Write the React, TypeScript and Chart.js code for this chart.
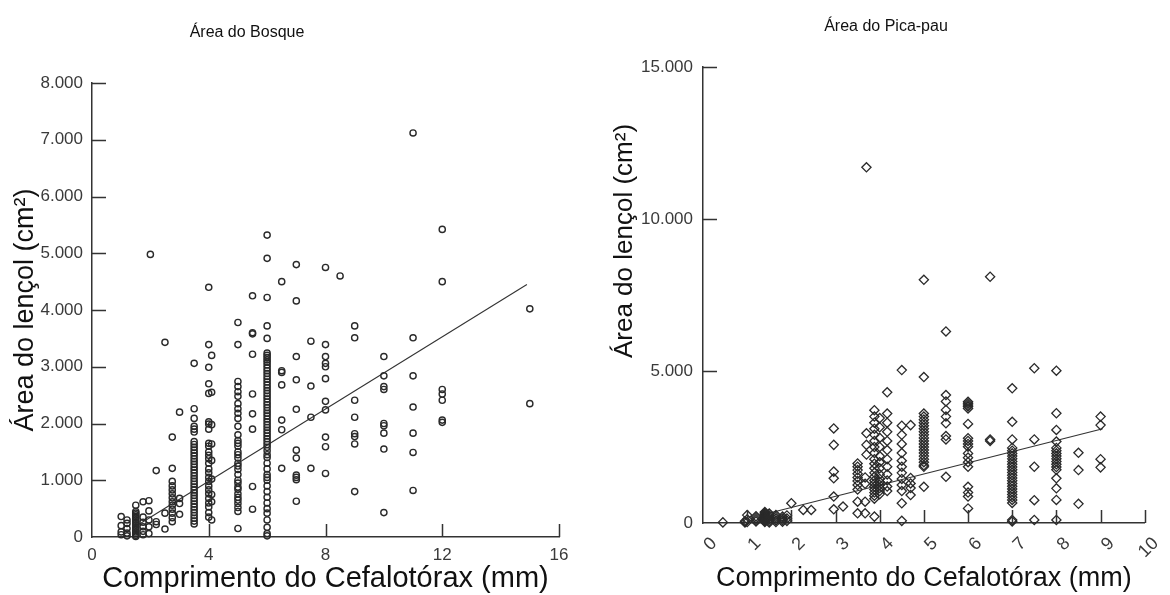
import React, { useEffect, useRef } from 'react';
import { Chart, registerables } from 'chart.js';

Chart.register(...registerables);

const FONT = "'Liberation Sans', Arial, Helvetica, sans-serif";

// ---------- Área do Bosque ----------
const BOSQUE_X = [1.0, 1.2, 1.5, 1.75, 1.95, 2.0, 2.2, 2.5, 2.75, 3.0, 3.5, 4.0, 4.1, 5.0, 5.5, 6.0, 6.5, 7.0, 7.5, 8.0, 8.5, 9.0, 10.0, 11.0, 12.0, 15.0];
const BOSQUE_Y: number[][] = [
  [360, 200, 90, 40],
  [300, 240, 150, 70, 20],
  [560, 450, 420, 390, 360, 330, 300, 270, 240, 210, 180, 150, 120, 90, 60, 30, 10],
  [620, 350, 260, 180, 100, 40],
  [640, 460, 300, 180, 60],
  [4980],
  [1170, 270, 220],
  [3430, 420, 140],
  [1760, 1210, 980, 900, 830, 760, 690, 620, 560, 490, 420, 340, 270],
  [2200, 680, 590, 400],
  [3060, 2260, 2090, 1950, 1900, 1850, 1680, 1630, 1580, 1530, 1480, 1430, 1380, 1330, 1280, 1230, 1180, 1130, 1080, 1030, 980, 930, 880, 830, 780, 730, 680, 630, 580, 530, 480, 430, 380, 330, 280, 230],
  [4400, 3390, 2990, 2700, 2530, 2030, 1990, 1900, 1650, 1600, 1500, 1440, 1380, 1300, 1200, 1130, 1050, 980, 900, 830, 760, 680, 600, 530, 430, 350],
  [3200, 2550, 1980, 1640, 1350, 1020, 750, 620, 300],
  [3780, 3390, 2740, 2650, 2560, 2480, 2350, 2260, 2180, 2090, 1950, 1800, 1700, 1650, 1600, 1500, 1450, 1390, 1300, 1250, 1190, 1100, 1000, 950, 880, 840, 760, 700, 650, 590, 520, 450, 150],
  [4250, 3600, 3580, 3220, 2520, 2170, 1900, 890, 490],
  [5320, 4910, 4220, 3720, 3500, 3240, 3200, 3160, 3120, 3080, 3030, 2980, 2930, 2880, 2830, 2780, 2730, 2680, 2630, 2580, 2530, 2480, 2430, 2380, 2330, 2280, 2230, 2180, 2130, 2080, 2030, 1980, 1930, 1880, 1830, 1780, 1730, 1680, 1630, 1580, 1520, 1450, 1400, 1300, 1200, 1100, 1050, 1000, 900, 800, 700, 600, 500, 420, 300, 170, 60, 20],
  [4500, 2930, 2900, 2680, 2060, 1890, 1210],
  [4800, 4160, 3180, 2770, 2250, 1530, 1390, 1090, 1050, 1010, 630],
  [3450, 2660, 2110, 1210],
  [4750, 3390, 3180, 3060, 3000, 2790, 2390, 2240, 1760, 1590, 1120],
  [4600],
  [3720, 3510, 2410, 2110, 1820, 1770, 1640, 800],
  [3180, 2840, 2650, 2600, 2000, 1960, 1830, 1550, 430],
  [7120, 3510, 2840, 2290, 1830, 1490, 820],
  [5420, 4500, 2600, 2520, 2410, 2060, 2020],
  [4020, 2350],
];
const BOSQUE_FIT_X = [1.6, 14.9];
const BOSQUE_FIT_Y = [220, 4450];
const BOSQUE_X_TICKS = [0, 4, 8, 12, 16];
const BOSQUE_Y_TICKS = [0, 1000, 2000, 3000, 4000, 5000, 6000, 7000, 8000];

// ---------- Área do Pica-pau ----------
const PICAPAU_X = [0.45, 0.95, 1.0, 1.2, 1.4, 1.5, 1.65, 1.8, 1.9, 2.0, 2.27, 2.45, 2.96, 3.17, 3.5, 3.67, 3.7, 3.88, 4.0, 4.17, 4.5, 4.7, 5.0, 5.5, 6.0, 6.5, 7.0, 7.5, 8.0, 8.5, 9.0];
const PICAPAU_Y: number[][] = [
  [20],
  [60, 20],
  [260, 120, 30],
  [220, 160, 100, 50],
  [360, 330, 300, 270, 240, 210, 180, 150, 120, 90, 60, 30],
  [310, 250, 190, 130, 70, 20],
  [260, 200, 140, 80, 30],
  [210, 150, 90, 40],
  [250, 150, 70],
  [650],
  [430],
  [430],
  [3110, 2570, 1690, 1470, 870, 450],
  [540],
  [1960, 1850, 1740, 1620, 1500, 1380, 1250, 1100, 700, 320],
  [1500, 1290, 700, 320],
  [11700, 2950, 2570, 2250],
  [3710, 3500, 3300, 3100, 2900, 2700, 2500, 2300, 2100, 1950, 1800, 1650, 1520, 1400, 1300, 1200, 1100, 1000, 900, 800, 210],
  [3450, 3150, 2800, 2500, 2200, 2000, 1800, 1600, 1450, 1350, 1250, 1150, 1050, 950],
  [4300, 3600, 3300, 3000, 2700, 2400, 2100, 1850, 1600, 1400, 1200, 1050],
  [5030, 3200, 2900, 2600, 2300, 2050, 1850, 1650, 1450, 1250, 1050, 650, 70],
  [3220, 1480, 1300, 1150, 920],
  [8000, 4800, 3600, 3500, 3400, 3300, 3200, 3100, 3000, 2900, 2800, 2700, 2600, 2500, 2400, 2300, 2200, 2100, 2000, 1900, 1850, 1190],
  [6300, 4210, 4000, 3720, 3500, 3280, 2860, 2750, 1520],
  [3990, 3940, 3880, 3830, 3770, 3260, 2790, 2700, 2600, 2510, 2290, 2150, 2000, 1850, 1190, 1000, 870, 480],
  [8100, 2750, 2700],
  [4430, 3330, 2750, 2470, 2380, 2290, 2200, 2110, 2020, 1930, 1840, 1750, 1660, 1570, 1480, 1390, 1300, 1210, 1120, 1030, 940, 850, 760, 660, 100, 50],
  [5090, 2750, 1850, 750, 100],
  [5010, 3610, 3060, 2680, 2470, 2380, 2290, 2200, 2110, 2020, 1930, 1840, 1750, 1470, 1140, 760, 100],
  [2310, 1740, 630],
  [3500, 3220, 2100, 1830],
];
const PICAPAU_FIT_X = [1.35, 9.05];
const PICAPAU_FIT_Y = [270, 3100];
const PICAPAU_X_TICKS = [0, 1, 2, 3, 4, 5, 6, 7, 8, 9, 10];
const PICAPAU_Y_TICKS = [0, 5000, 10000, 15000];

const TITLE_BOSQUE = 'Área do Bosque';
const TITLE_PICAPAU = 'Área do Pica-pau';
const X_TITLE = 'Comprimento do Cefalotórax (mm)';
const Y_TITLE = 'Área do lençol (cm²)';

function toPoints(xs: number[], ys: number[][]) {
  const pts: { x: number; y: number }[] = [];
  xs.forEach((x, i) => ys[i].forEach((y) => pts.push({ x, y })));
  return pts;
}
function pairPoints(xs: number[], ys: number[]) {
  return xs.map((x, i) => ({ x, y: ys[i] }));
}
function fmt(v: number) {
  if (v === 0) return '0';
  const s = String(Math.round(v));
  return s.slice(0, -3) + '.' + s.slice(-3);
}

const innerTicks = {
  id: 'innerTicks',
  afterDraw(chart: any, _a: any, opts: any) {
    const { ctx } = chart;
    const xs = chart.scales.x;
    const ys = chart.scales.y;
    ctx.save();
    ctx.strokeStyle = opts.color;
    ctx.lineWidth = opts.width;
    ctx.beginPath();
    xs.ticks.forEach((t: any) => {
      if (t.value === xs.min) return;
      const px = Math.round(xs.getPixelForValue(t.value)) + 0.5;
      ctx.moveTo(px, ys.bottom);
      ctx.lineTo(px, ys.bottom - opts.xLen);
    });
    ys.ticks.forEach((t: any) => {
      if (t.value === ys.min) return;
      const py = Math.round(ys.getPixelForValue(t.value)) + 0.5;
      ctx.moveTo(xs.left, py);
      ctx.lineTo(xs.left + opts.yLen, py);
    });
    ctx.stroke();
    ctx.restore();
  },
};

const overlayText = {
  id: 'overlayText',
  afterDraw(chart: any, _a: any, opts: any) {
    const { ctx } = chart;
    (opts.items || []).forEach((it: any) => {
      ctx.save();
      ctx.translate(it.x, it.y);
      if (it.rotate) ctx.rotate(it.rotate);
      ctx.font = it.font;
      ctx.fillStyle = it.color;
      ctx.textAlign = 'center';
      ctx.textBaseline = 'middle';
      ctx.fillText(it.text, 0, 0);
      ctx.restore();
    });
  },
};

function setTicks(arr: number[]) {
  return (scale: any) => {
    scale.ticks = arr.map((v) => ({ value: v }));
  };
}

function makeBosque(canvas: HTMLCanvasElement) {
  return new Chart(canvas, {
    type: 'scatter',
    data: {
      datasets: [
        {
          label: 'Bosque',
          data: toPoints(BOSQUE_X, BOSQUE_Y),
          pointStyle: 'circle',
          pointRadius: 3.1,
          pointBorderWidth: 1.4,
          borderColor: '#2a2a2a',
          backgroundColor: 'rgba(0,0,0,0)',
          clip: false,
        } as any,
        {
          label: 'Ajuste',
          data: pairPoints(BOSQUE_FIT_X, BOSQUE_FIT_Y),
          showLine: true,
          pointRadius: 0,
          borderColor: '#333',
          borderWidth: 1.1,
          fill: false,
        } as any,
      ],
    },
    options: {
      responsive: false,
      animation: false,
      layout: { padding: { top: 83, right: 26, bottom: 0, left: 0 } },
      plugins: {
        legend: { display: false },
        tooltip: { enabled: false },
        innerTicks: { color: '#333', width: 1.5, xLen: 13, yLen: 14 },
        overlayText: {
          items: [{ text: TITLE_BOSQUE, x: 247, y: 33, font: `16px ${FONT}`, color: '#111' }],
        },
      } as any,
      scales: {
        x: {
          type: 'linear',
          min: 0,
          max: 16,
          afterBuildTicks: setTicks(BOSQUE_X_TICKS),
          afterFit: (s: any) => { s.height = 58; },
          grid: { display: false, drawTicks: false },
          border: { display: true, color: '#333', width: 1.5 },
          ticks: { font: { family: FONT, size: 17 }, color: '#3a3a3a', padding: 8, maxRotation: 0, autoSkip: false, callback: (v: any) => String(v) },
          title: { display: true, text: X_TITLE, font: { family: FONT, size: 29 }, color: '#111', padding: { top: 0, bottom: -1 } },
        },
        y: {
          type: 'linear',
          min: 0,
          max: 8000,
          afterBuildTicks: setTicks(BOSQUE_Y_TICKS),
          afterFit: (s: any) => { s.width = 92; },
          grid: { display: false, drawTicks: false },
          border: { display: true, color: '#333', width: 1.5 },
          ticks: { font: { family: FONT, size: 17 }, color: '#3a3a3a', padding: 9, autoSkip: false, callback: (v: any) => fmt(Number(v)) },
          title: { display: true, text: Y_TITLE, font: { family: FONT, size: 27 }, color: '#111', padding: { top: 9, bottom: 0 } },
        },
      },
    } as any,
    plugins: [innerTicks, overlayText],
  });
}

function makePicapau(canvas: HTMLCanvasElement) {
  return new Chart(canvas, {
    type: 'scatter',
    data: {
      datasets: [
        {
          label: 'Pica-pau',
          data: toPoints(PICAPAU_X, PICAPAU_Y),
          pointStyle: 'rectRot',
          pointRadius: 4.6,
          pointBorderWidth: 1.3,
          borderColor: '#2a2a2a',
          backgroundColor: 'rgba(0,0,0,0)',
          clip: false,
        } as any,
        {
          label: 'Ajuste',
          data: pairPoints(PICAPAU_FIT_X, PICAPAU_FIT_Y),
          showLine: true,
          pointRadius: 0,
          borderColor: '#333',
          borderWidth: 1.1,
          fill: false,
        } as any,
      ],
    },
    options: {
      responsive: false,
      animation: false,
      layout: { padding: { top: 67, right: 11, bottom: 0, left: 0 } },
      plugins: {
        legend: { display: false },
        tooltip: { enabled: false },
        innerTicks: { color: '#333', width: 1.5, xLen: 13, yLen: 14 },
        overlayText: {
          items: [
            { text: TITLE_PICAPAU, x: 301, y: 27, font: `16px ${FONT}`, color: '#111' },
            { text: Y_TITLE, x: 40, y: 241, rotate: -Math.PI / 2, font: `26px ${FONT}`, color: '#111' },
          ],
        },
      } as any,
      scales: {
        x: {
          type: 'linear',
          min: 0,
          max: 10,
          afterBuildTicks: setTicks(PICAPAU_X_TICKS),
          afterFit: (s: any) => { s.height = 72; },
          grid: { display: false, drawTicks: false },
          border: { display: true, color: '#333', width: 1.5 },
          ticks: {
            font: { family: FONT, size: 18 },
            color: '#3a3a3a',
            padding: 10,
            minRotation: 45,
            maxRotation: 45,
            labelOffset: (c: any) => (c.index === 10 ? 19 : 11),
            autoSkip: false,
            callback: (v: any) => String(v),
          },
          title: { display: true, text: X_TITLE, font: { family: FONT, size: 27 }, color: '#111', padding: { top: 0, bottom: 0 } },
        },
        y: {
          type: 'linear',
          min: 0,
          max: 15000,
          afterBuildTicks: setTicks(PICAPAU_Y_TICKS),
          afterFit: (s: any) => { s.width = 118; },
          grid: { display: false, drawTicks: false },
          border: { display: true, color: '#333', width: 1.5 },
          ticks: { font: { family: FONT, size: 17 }, color: '#3a3a3a', padding: 10, autoSkip: false, callback: (v: any) => fmt(Number(v)) },
          title: { display: false },
        },
      },
    } as any,
    plugins: [innerTicks, overlayText],
  });
}

export default function App() {
  const leftRef = useRef<HTMLCanvasElement | null>(null);
  const rightRef = useRef<HTMLCanvasElement | null>(null);

  useEffect(() => {
    const a = makeBosque(leftRef.current as HTMLCanvasElement);
    const b = makePicapau(rightRef.current as HTMLCanvasElement);
    return () => {
      a.destroy();
      b.destroy();
    };
  }, []);

  return (
    <div style={{ position: 'absolute', left: 0, top: 0, width: 1170, height: 595, background: '#fff', overflow: 'hidden' }}>
      <canvas ref={leftRef} width={585} height={595} style={{ position: 'absolute', left: 0, top: 0, width: 585, height: 595 }} />
      <canvas ref={rightRef} width={585} height={595} style={{ position: 'absolute', left: 585, top: 0, width: 585, height: 595 }} />
    </div>
  );
}
